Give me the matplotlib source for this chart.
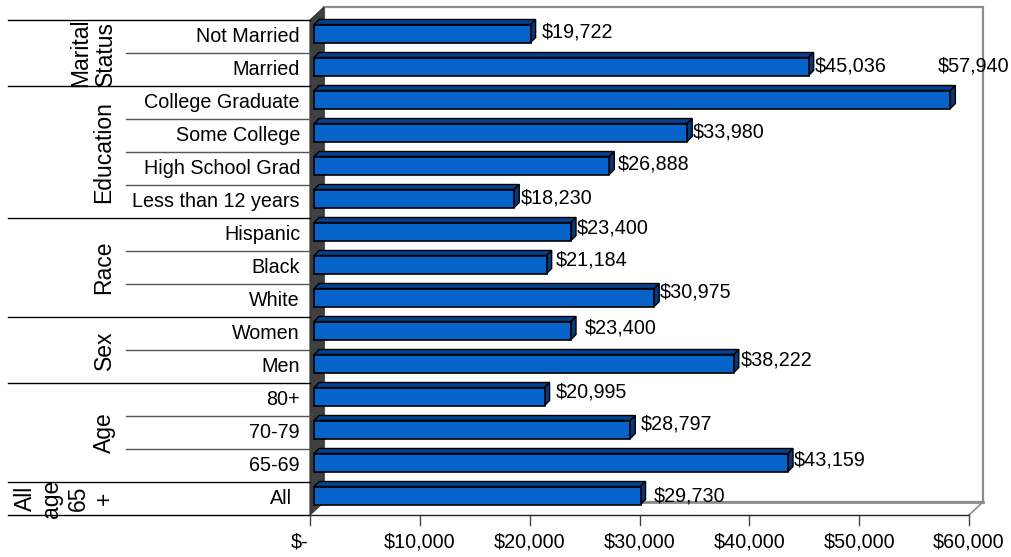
import matplotlib
matplotlib.use("Agg")
import matplotlib.pyplot as plt
from matplotlib.patches import Polygon

plt.rcParams['font.family'] = ['Liberation Sans', 'DejaVu Sans']

categories = ["Not Married", "Married", "College Graduate", "Some College", "High School Grad",
              "Less than 12 years", "Hispanic", "Black", "White", "Women", "Men",
              "80+", "70-79", "65-69", "All"]
values = [19722, 45036, 57940, 33980, 26888, 18230, 23400, 21184, 30975, 23400, 38222,
          20995, 28797, 43159, 29730]
x_ticks = [0, 10000, 20000, 30000, 40000, 50000, 60000]
x_tick_labels = ["$-", "$10,000", "$20,000", "$30,000", "$40,000", "$50,000", "$60,000"]
group_names = ["Marital\nStatus", "Education", "Race", "Sex", "Age", "All\nage\n65\n+"]
group_edges = [0, 2, 6, 9, 11, 14, 15]

# pixel nudges of the value labels, they sit unevenly in the original
label_dx = [15, 10, -9, 10, 12, 11, 10, 13, 10, 18, 11, 15, 14, 10, 17]
label_dy = [4, 4, 36, 3, 4, 4, 6, 7, 8, 5, 7, 7, 8, 5, 3]

W, H = 1011, 557
FONT = 14.2
GROUP_FONT = 16.5

fig = plt.figure(figsize=(W / 100, H / 100), dpi=100)
ax = fig.add_axes([310 / W, (H - 515) / H, 659 / W, 495 / H])
ax.set_xlim(0, 60000)
ax.set_ylim(15, 0)
ax.axis("off")

# one pixel in data units
px = 60000 / 659
py = 15 / 495

wall_dx = 14 * px
wall_dy = 13 * py

# back wall, floor, left wall
ax.add_patch(Polygon([(wall_dx, -wall_dy), (60000 + wall_dx, -wall_dy), (60000 + wall_dx, 15 - wall_dy),
                      (wall_dx, 15 - wall_dy)], closed=True, fc="white", ec="#8c8c8c", lw=1.6, clip_on=False))
ax.add_patch(Polygon([(0, 15), (wall_dx, 15 - wall_dy), (60000 + wall_dx, 15 - wall_dy), (60000, 15)],
                     closed=True, fc="white", ec="none", clip_on=False))
ax.plot([wall_dx, 60000 + wall_dx], [15 - wall_dy, 15 - wall_dy], color="#8c8c8c", lw=2, clip_on=False)
ax.plot([60000, 60000 + wall_dx], [15, 15 - wall_dy], color="#8c8c8c", lw=1.2, clip_on=False)
ax.add_patch(Polygon([(0, 0), (wall_dx, -wall_dy), (wall_dx, 15 - wall_dy), (0, 15)],
                     closed=True, fc="#404040", ec="#303030", lw=0.8, clip_on=False))
ax.plot([0, 60000], [15, 15], color="#222222", lw=1, clip_on=False)

# bars, front face is shifted a bit off the wall
start = 4 * px
depth_x = 5 * px
depth_y = 5 * py
bar_h = 18 * py
for i, v in enumerate(values):
    top = i + 0.5 - 12 * py
    bottom = top + bar_h
    right = start + v
    ax.add_patch(Polygon([(start, top), (start + depth_x, top - depth_y), (right + depth_x, top - depth_y), (right, top)],
                         closed=True, fc="#05418f", ec="black", lw=1, clip_on=False, zorder=3))
    ax.add_patch(Polygon([(right, top), (right + depth_x, top - depth_y), (right + depth_x, bottom - depth_y), (right, bottom)],
                         closed=True, fc="#05397a", ec="black", lw=1, clip_on=False, zorder=3))
    ax.barh(i + 0.5 - 3 * py, v, height=bar_h, left=start, color="#0563c9", edgecolor="black", lw=1.2, zorder=4)
    ax.annotate(f"${v:,}", (v, i + 0.5), xytext=(label_dx[i], label_dy[i]), textcoords="offset pixels",
                ha="left", va="center", fontsize=FONT, color="black", annotation_clip=False, zorder=5)
    cat_x = -18 * px if categories[i] == "All" else -10 * px
    ax.text(cat_x, i + 0.5, categories[i], ha="right", va="center", fontsize=FONT, clip_on=False)

# category separators, long ones between groups
for i in range(16):
    x0 = -302 * px if i in group_edges else -184 * px
    ax.plot([x0, 0], [i, i], color="black" if i in group_edges else "#555555", lw=1, clip_on=False)

# group names
group_x = [-217 * px, -206 * px, -206 * px, -206 * px, -206 * px, -245 * px]
group_spacing = [1.08, 1.0, 1.0, 1.0, 1.0, 1.17]
for j, name in enumerate(group_names):
    mid = (group_edges[j] + group_edges[j + 1]) / 2
    ax.text(group_x[j], mid, name, rotation=90, ha="center", va="center", ma="center", fontsize=GROUP_FONT,
            linespacing=group_spacing[j], clip_on=False)

# x axis ticks
for t, lab in zip(x_ticks, x_tick_labels):
    ax.plot([t, t], [15, 15 + 10 * py], color="#444444", lw=1, clip_on=False)
    ax.text(t - (10 * px if t == 0 else 0), 15 + 27 * py, lab, ha="center", va="center", fontsize=FONT, clip_on=False)

fig.savefig("out.png", dpi=100)
